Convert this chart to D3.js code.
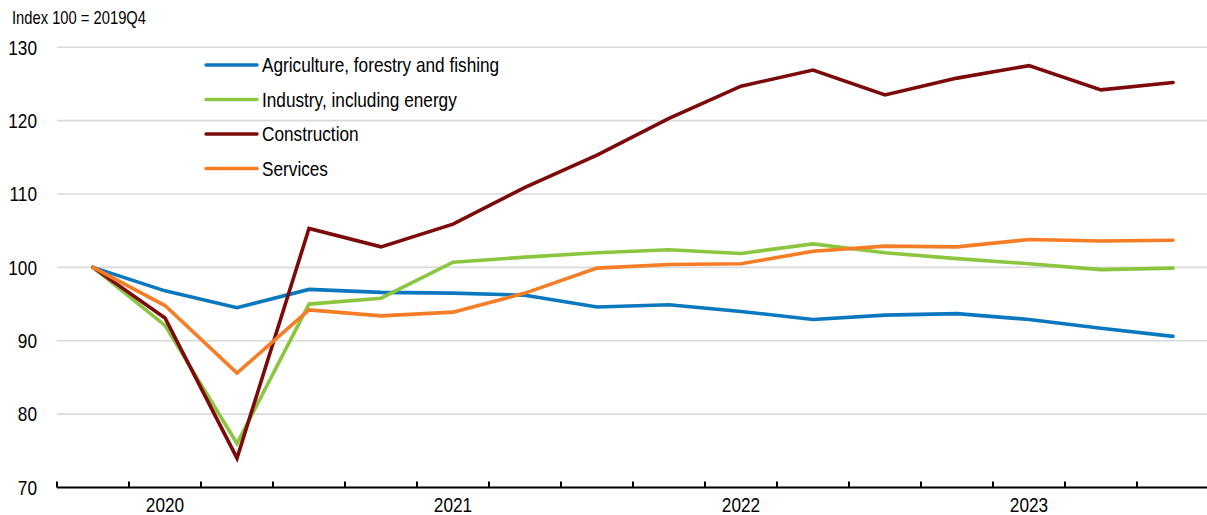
<!DOCTYPE html>
<html>
<head>
<meta charset="utf-8">
<script src="https://cdn.jsdelivr.net/npm/d3@7"></script>
<style>
  html, body { margin: 0; padding: 0; background: #fff; }
  svg { display: block; }
  text { font-family: "Liberation Sans Narrow", "Arial Narrow", "Liberation Sans", Arial, sans-serif; fill: #000; }
</style>
</head>
<body>
<svg id="chart" width="1207" height="515"></svg>
<script>
const quarters = ["2019Q4","2020Q1","2020Q2","2020Q3","2020Q4","2021Q1","2021Q2","2021Q3","2021Q4",
                  "2022Q1","2022Q2","2022Q3","2022Q4","2023Q1","2023Q2","2023Q3"];
const agriculture = [100, 96.8, 94.5, 97.0, 96.6, 96.5, 96.2, 94.6, 94.9, 94.0, 92.9, 93.5, 93.7, 92.9, 91.7, 90.6];
const industry    = [100, 92.1, 76.0, 95.0, 95.8, 100.7, 101.4, 102.0, 102.4, 101.9, 103.2, 102.0, 101.2, 100.5, 99.7, 99.9];
const construction= [100, 93.1, 74.0, 105.3, 102.8, 105.9, 110.9, 115.3, 120.3, 124.7, 126.9, 123.5, 125.8, 127.5, 124.2, 125.2];
const services    = [100, 94.8, 85.6, 94.2, 93.4, 93.9, 96.5, 99.9, 100.4, 100.5, 102.2, 102.9, 102.8, 103.8, 103.6, 103.7];
const seriesNames = ["Agriculture, forestry and fishing", "Industry, including energy", "Construction", "Services"];
const seriesColors = ["#0a78be", "#8cc640", "#7c0a0a", "#f47d26"];
const yTicks = [70, 80, 90, 100, 110, 120, 130];
const yearLabels = ["2020Q1","2021Q1","2022Q1","2023Q1"];
const unitLabel = "Index 100 = 2019Q4";

const seriesData = [agriculture, industry, construction, services];
const SX = 0.82; // condensed look

const svg = d3.select("#chart");
const x = d3.scaleBand().domain(quarters).range([57, 1209]).padding(0);
const y = d3.scaleLinear().domain([70, 130]).range([487.5, 47.3]);

// gridlines
svg.append("g").selectAll("line").data(yTicks.filter(d => d > 70)).join("line")
  .attr("x1", 57).attr("x2", 1207)
  .attr("y1", d => y(d)).attr("y2", d => y(d))
  .attr("stroke", "#d9d9d9").attr("stroke-width", 1.6);

// y labels
svg.append("g").selectAll("text").data(yTicks).join("text")
  .attr("transform", d => `translate(37,${y(d)}) scale(${SX},1)`)
  .attr("dy", "0.35em")
  .attr("text-anchor", "end").attr("font-size", 21).text(d => d);

// unit label
svg.append("text").attr("transform", `translate(12,24) scale(${SX},1)`).attr("font-size", 18).text(unitLabel);

// x axis line + boundary ticks
const xg = svg.append("g");
xg.append("line").attr("x1", 57).attr("x2", 1209).attr("y1", y(70)).attr("y2", y(70))
  .attr("stroke", "#000").attr("stroke-width", 2);
xg.selectAll("line.tk").data(quarters).join("line").attr("class", "tk")
  .attr("x1", d => x(d)).attr("x2", d => x(d))
  .attr("y1", y(70)).attr("y2", y(70) - 6)
  .attr("stroke", "#000").attr("stroke-width", 2);

// year labels
const xAxis = d3.axisBottom(x).tickValues(yearLabels).tickSize(0).tickFormat(d => d.slice(0, 4));
const xa = svg.append("g").attr("transform", `translate(0,${y(70)})`).call(xAxis);
xa.select(".domain").remove();
xa.selectAll("text").attr("font-size", 21).attr("dy", 0).attr("y", 0)
  .attr("transform", `translate(0,24) scale(${SX},1)`)
  .style("font-family", '"Liberation Sans Narrow", "Arial Narrow", "Liberation Sans", Arial, sans-serif').attr("fill", "#000");

// lines
const line = d3.line().x((d, i) => x(quarters[i]) + x.bandwidth() / 2).y(d => y(d));
svg.append("g").selectAll("path").data(seriesData).join("path")
  .attr("d", d => line(d)).attr("fill", "none")
  .attr("stroke", (d, i) => seriesColors[i]).attr("stroke-width", 3.6)
  .attr("stroke-linejoin", "miter").attr("stroke-linecap", "round");

// legend
const lg = svg.append("g");
const rows = lg.selectAll("g").data(seriesNames).join("g")
  .attr("transform", (d, i) => `translate(0,${65 + i * 34.5})`);
rows.append("line").attr("x1", 206).attr("x2", 257).attr("y1", 0).attr("y2", 0)
  .attr("stroke", (d, i) => seriesColors[i]).attr("stroke-width", 3.4).attr("stroke-linecap", "round");
rows.append("text").attr("transform", `translate(262,0) scale(${SX},1)`).attr("dy", "0.35em").attr("font-size", 21).text(d => d);
</script>
</body>
</html>
